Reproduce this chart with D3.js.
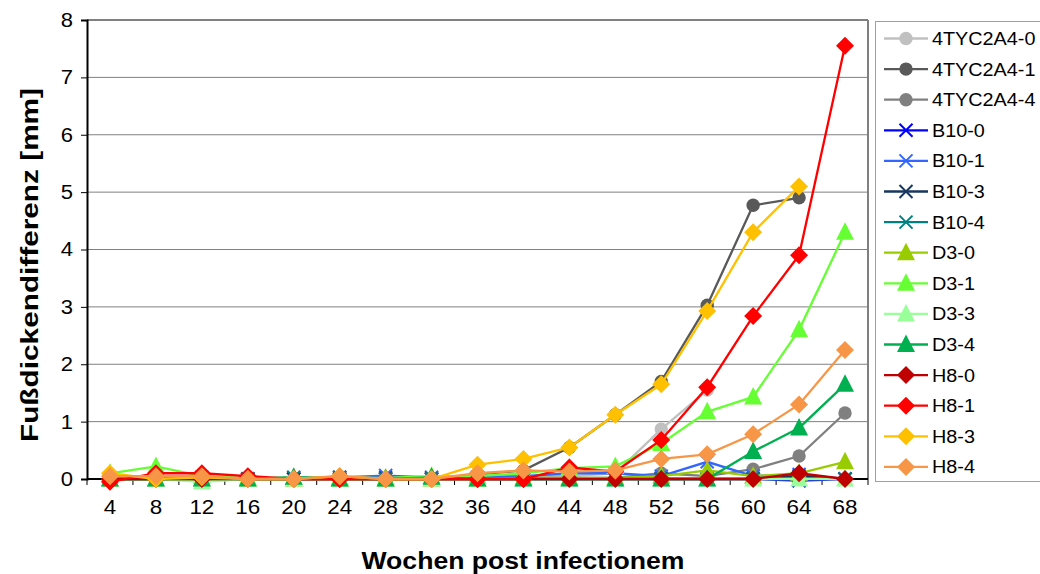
<!DOCTYPE html>
<html>
<head>
<meta charset="utf-8">
<script src="https://cdn.jsdelivr.net/npm/d3@7"></script>
<style>
  body { margin: 0; background: #fff; }
  svg { font-family: "Liberation Sans", Arial, sans-serif; }
</style>
</head>
<body>
<svg id="chart" width="1040" height="574"></svg>
<script>
// weeks post infection
const weeks = [4, 8, 12, 16, 20, 24, 28, 32, 36, 40, 44, 48, 52, 56, 60, 64, 68];
const yTicks = [0, 1, 2, 3, 4, 5, 6, 7, 8];

const s4TYC2A4_0 = [0, 0, 0, 0, 0, 0, 0, 0, 0.05, 0.05, 0.05, 0.1, 0.87, 1.55];
const s4TYC2A4_1 = [0, 0, 0, 0, 0, 0, 0, 0, 0.08, 0.15, 0.55, 1.12, 1.7, 3.03, 4.77, 4.9];
const s4TYC2A4_4 = [0, 0, 0, 0, 0, 0, 0, 0, 0, 0.02, 0.02, 0.02, 0.1, 0.05, 0.17, 0.4, 1.15];
const sB10_0 = [0, 0, 0, 0, 0, 0, 0, 0, 0, 0, 0, 0, 0, 0, 0, -0.03, 0];
const sB10_1 = [0, 0.03, 0.03, 0, 0, 0.03, 0.06, 0.03, 0.03, 0.05, 0.1, 0.1, 0.05, 0.3, 0.05, 0.08, 0];
const sB10_3 = [0, 0, 0, 0, 0, 0, 0.02, 0, 0, 0, 0, 0, 0, 0, 0, 0.05, 0];
const sB10_4 = [0, 0, 0, 0, 0.03, 0.03, 0, 0, 0, 0, 0, 0, 0, 0, 0, 0.02, 0];
const sD3_0 = [0, 0, 0, 0, 0, 0, 0, 0, 0, 0.02, 0.02, 0.02, 0.05, 0.15, 0.05, 0.1, 0.3];
const sD3_1 = [0.1, 0.22, 0.05, 0.02, 0.02, 0.02, 0.02, 0.05, 0.05, 0.1, 0.19, 0.22, 0.62, 1.17, 1.43, 2.6, 4.3];
const sD3_3 = [0, 0, -0.05, 0, 0, 0, 0, 0, 0, 0, 0, 0, 0, 0, 0, 0, 0];
const sD3_4 = [0, 0, 0, 0, 0.03, 0, 0, 0.03, 0, 0, 0, 0, 0, 0, 0.48, 0.89, 1.65];
const sH8_0 = [0, 0, 0, 0, 0, 0, 0, 0, 0, 0, 0, 0, 0, 0, 0, 0.1, 0];
const sH8_1 = [-0.05, 0.1, 0.1, 0.05, 0, 0, 0, 0, 0, 0, 0.2, 0.13, 0.68, 1.6, 2.84, 3.9, 7.55];
const sH8_3 = [0.1, 0, 0.03, 0, 0, 0.05, 0, 0, 0.25, 0.35, 0.55, 1.12, 1.65, 2.93, 4.3, 5.1];
const sH8_4 = [0.05, 0.05, 0.05, 0, 0, 0.05, 0, 0, 0.1, 0.15, 0.13, 0.15, 0.35, 0.43, 0.78, 1.3, 2.25];

const series = [
  { name: '4TYC2A4-0', values: s4TYC2A4_0, color: '#c0c0c0', marker: 'circle' },
  { name: '4TYC2A4-1', values: s4TYC2A4_1, color: '#595959', marker: 'circle' },
  { name: '4TYC2A4-4', values: s4TYC2A4_4, color: '#808080', marker: 'circle' },
  { name: 'B10-0', values: sB10_0, color: '#0000ff', marker: 'cross' },
  { name: 'B10-1', values: sB10_1, color: '#3366ff', marker: 'cross' },
  { name: 'B10-3', values: sB10_3, color: '#17375e', marker: 'cross' },
  { name: 'B10-4', values: sB10_4, color: '#008080', marker: 'cross' },
  { name: 'D3-0', values: sD3_0, color: '#99cc00', marker: 'triangle' },
  { name: 'D3-1', values: sD3_1, color: '#66ff33', marker: 'triangle' },
  { name: 'D3-3', values: sD3_3, color: '#99ff99', marker: 'triangle' },
  { name: 'D3-4', values: sD3_4, color: '#00b050', marker: 'triangle' },
  { name: 'H8-0', values: sH8_0, color: '#c00000', marker: 'diamond' },
  { name: 'H8-1', values: sH8_1, color: '#ff0000', marker: 'diamond' },
  { name: 'H8-3', values: sH8_3, color: '#ffc000', marker: 'diamond' },
  { name: 'H8-4', values: sH8_4, color: '#f79646', marker: 'diamond' }
];

const svg = d3.select('#chart');
const plotLeft = 87, plotRight = 868, plotTop = 20, plotBottom = 479;

const x = d3.scaleBand().domain(weeks).range([plotLeft, plotRight]);
const y = d3.scaleLinear().domain([0, 8]).range([plotBottom, plotTop]);

// the original text is a bit wider than the font, stretch it
function stretch(sel, f) {
  sel.each(function() {
    const w = this.getComputedTextLength();
    d3.select(this).attr('textLength', w * f).attr('lengthAdjust', 'spacingAndGlyphs');
  });
}

// gridlines
svg.append('g')
  .selectAll('line')
  .data(yTicks.slice(1))
  .enter()
  .append('line')
  .attr('x1', plotLeft).attr('x2', plotRight)
  .attr('y1', d => y(d)).attr('y2', d => y(d))
  .attr('stroke', '#808080')
  .attr('stroke-width', d => d === 8 ? 2 : 1);

// right border
svg.append('line')
  .attr('x1', plotRight).attr('x2', plotRight)
  .attr('y1', plotTop).attr('y2', plotBottom)
  .attr('stroke', '#808080').attr('stroke-width', 2);

// y axis
const yAxis = svg.append('g')
  .attr('transform', 'translate(' + plotLeft + ',0)')
  .call(d3.axisLeft(y).tickValues(yTicks).tickSize(6).tickPadding(8));
yAxis.select('.domain').attr('stroke', '#000').attr('stroke-width', 2);
yAxis.selectAll('text').attr('font-size', 20).attr('fill', '#000').call(stretch, 1.1);

// x axis, ticks between categories
const xAxis = svg.append('g')
  .attr('transform', 'translate(0,' + plotBottom + ')');
xAxis.append('line')
  .attr('x1', plotLeft).attr('x2', plotRight)
  .attr('stroke', '#000').attr('stroke-width', 2);
xAxis.selectAll('.tick')
  .data(d3.range(weeks.length + 1))
  .enter()
  .append('line')
  .attr('x1', i => plotLeft + i * x.step()).attr('x2', i => plotLeft + i * x.step())
  .attr('y1', 0).attr('y2', 6)
  .attr('stroke', '#000');
xAxis.selectAll('text')
  .data(weeks)
  .enter()
  .append('text')
  .attr('x', d => x(d) + x.bandwidth() / 2)
  .attr('y', 35)
  .attr('text-anchor', 'middle')
  .attr('font-size', 20)
  .text(d => d)
  .call(stretch, 1.12);

// axis titles
svg.append('text')
  .attr('transform', 'translate(38,265) rotate(-90)')
  .attr('text-anchor', 'middle')
  .attr('font-size', 24)
  .attr('font-weight', 'bold')
  .attr('textLength', 354)
  .attr('lengthAdjust', 'spacingAndGlyphs')
  .text('Fußdickendifferenz [mm]');
svg.append('text')
  .attr('x', 523).attr('y', 569)
  .attr('text-anchor', 'middle')
  .attr('font-size', 23)
  .attr('font-weight', 'bold')
  .attr('textLength', 323)
  .attr('lengthAdjust', 'spacingAndGlyphs')
  .text('Wochen post infectionem');

function drawMarker(g, type, color) {
  if (type === 'circle') {
    g.append('circle').attr('r', 6.7).attr('fill', color);
  } else if (type === 'diamond') {
    g.append('path').attr('d', 'M0,-9L9,0L0,9L-9,0Z').attr('fill', color);
  } else if (type === 'triangle') {
    g.append('path').attr('d', 'M0,-10L9,7.5L-9,7.5Z').attr('fill', color);
  } else {
    g.append('path').attr('d', 'M-6.5,-6.5L6.5,6.5M-6.5,6.5L6.5,-6.5')
      .attr('stroke', color).attr('stroke-width', 2).attr('fill', 'none');
  }
}

const line = d3.line()
  .x((d, i) => x(weeks[i]) + x.bandwidth() / 2)
  .y(d => y(d));

const plot = svg.append('g');
series.forEach(s => {
  const g = plot.append('g');
  g.append('path')
    .attr('d', line(s.values))
    .attr('fill', 'none')
    .attr('stroke', s.color)
    .attr('stroke-width', 2.3);
  s.values.forEach((v, i) => {
    const m = g.append('g')
      .attr('transform', 'translate(' + (x(weeks[i]) + x.bandwidth() / 2) + ',' + y(v) + ')');
    drawMarker(m, s.marker, s.color);
  });
});

// legend
const legend = svg.append('g');
legend.append('rect')
  .attr('x', 875.5).attr('y', 21.5)
  .attr('width', 170).attr('height', 460)
  .attr('fill', '#fff').attr('stroke', '#a0a0a0');
series.forEach((s, i) => {
  const ly = 38.5 + i * 30.6;
  const g = legend.append('g');
  g.append('line')
    .attr('x1', 884).attr('x2', 928)
    .attr('y1', ly).attr('y2', ly)
    .attr('stroke', s.color).attr('stroke-width', 2.3);
  const m = g.append('g').attr('transform', 'translate(906,' + ly + ')');
  drawMarker(m, s.marker, s.color);
  g.append('text')
    .attr('x', 932).attr('y', ly + 6.5)
    .attr('font-size', 18)
    .text(s.name)
    .call(stretch, 1.1);
});
</script>
</body>
</html>
